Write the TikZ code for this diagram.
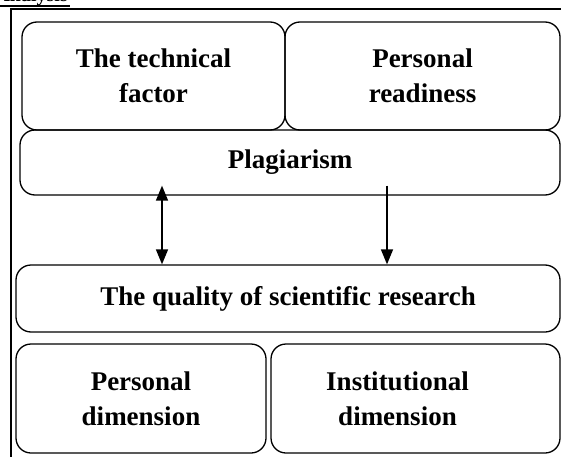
\documentclass[tikz,border=0pt]{standalone}
\usepackage{fontspec}
\setmainfont{Liberation Serif}
\usetikzlibrary{arrows.meta}
\tikzset{
  box/.style={draw=black, line width=1.3pt, rounded corners=15pt, inner sep=0pt, align=center,
    font=\fontsize{27}{35}\selectfont\bfseries},
  txt/.style={inner sep=0pt, align=center, font=\fontsize{27}{35}\selectfont\bfseries},
  frame/.style={line width=2.2pt},
  conn/.style={line width=1.5pt, -{Triangle[length=15pt,width=12pt]}},
  conn2/.style={line width=1.5pt, {Triangle[length=15pt,width=12pt]}-{Triangle[length=15pt,width=12pt]}}
}
\begin{document}
\begin{tikzpicture}[x=1pt,y=-1pt]
\useasboundingbox (0,0) rectangle (561,457);
% cut-off heading
\node[inner sep=0pt, anchor=base east, font=\fontsize{20}{24}\selectfont\bfseries] (head) at (68,1.5) {Analysis};
\draw[line width=1.8pt] (0,6) -- (70,6);
% table frame
\coordinate (fl) at (11,9);
\coordinate (fr) at (561,9);
\coordinate (fb) at (11,457);
\draw[frame] (fr) -- (fl) -- (fb);
% boxes
\node[box, minimum width=263pt, minimum height=108pt] (tech) at (153.5,76) {The technical\\factor};
\node[box, minimum width=275pt, minimum height=108pt] (ready) at (422.5,76) {Personal\\readiness};
\node[box, minimum width=540pt, minimum height=65pt] (plag) at (290,162.5) {Plagiarism};
\node[box, minimum width=544pt, minimum height=67pt] (qual) at (288,298.5) {The quality of scientific research};
\node[box, minimum width=250pt, minimum height=109pt] (pdim) at (141,398.5) {Personal\\dimension};
\node[box, minimum width=289pt, minimum height=109pt] (idim) at (415.5,398.5) {};
\node[txt] (idimt) at ([xshift=-18pt]idim.center) {Institutional\\dimension};
% arrows
\draw[conn2] ([xshift=-128pt,yshift=10pt]plag.south) -- ([xshift=-126pt]qual.north);
\draw[conn] ([xshift=97pt,yshift=10pt]plag.south) -- ([xshift=99pt]qual.north);
\end{tikzpicture}
\end{document}
